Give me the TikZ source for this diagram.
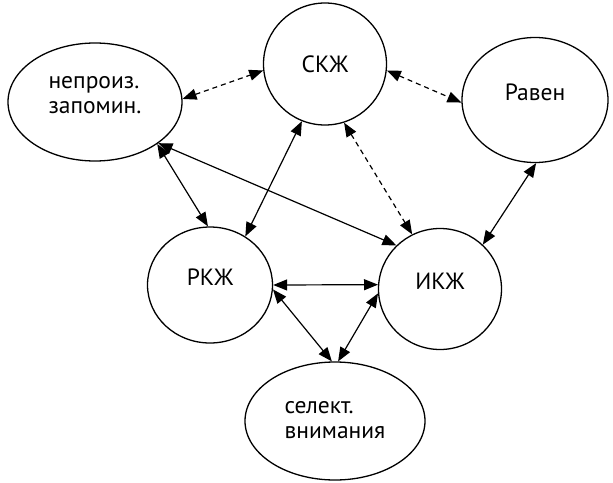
\documentclass[tikz,border=0pt]{standalone}
\usepackage{fontspec}
\setmainfont{PT Sans}
\usetikzlibrary{shapes.geometric,arrows.meta}
\newcommand\uptext[2]{\raisebox{#1}[\height][\depth]{\begin{tabular}{@{}l@{}}#2\end{tabular}}}
\begin{document}
\begin{tikzpicture}[x=1pt,y=-1pt,
  ell/.style={ellipse,draw,line width=1.3pt,inner sep=0pt,font=\fontsize{23.5}{25}\selectfont},
  con/.style={line width=1.2pt,{Triangle[length=14pt,width=11pt]}-{Triangle[length=14pt,width=11pt]}},
  dsh/.style={con,dash pattern=on 5pt off 4pt}]
\useasboundingbox (0,0) rectangle (613,482);
\node[ell,minimum width=174pt,minimum height=118pt] (np) at (95,102) {\uptext{6pt}{непроиз.\\запомин.}};
\node[ell,minimum width=123pt,minimum height=122pt] (skzh) at (325,64) {СКЖ};
\node[ell,minimum width=146pt,minimum height=125pt] (raven) at (535,100) {\uptext{5pt}{Равен}};
\node[ell,minimum width=125pt,minimum height=116pt] (rkzh) at (210,285) {\uptext{5pt}{РКЖ}};
\node[ell,minimum width=123pt,minimum height=121pt] (ikzh) at (440,289) {\uptext{5pt}{ИКЖ}};
\node[ell,minimum width=180pt,minimum height=118pt] (sel) at (335,421) {\uptext{0pt}{селект.\\внимания}};
\draw[dsh] (np.2) -- (skzh.186);
\draw[dsh] (skzh.-6) -- (raven.182);
\draw[dsh] (skzh.-72) -- (ikzh.117);
\draw[con] (np.-33) -- (ikzh.135);
\draw[con] (np.-34) -- (rkzh.92);
\draw[con] (skzh.-112) -- (rkzh.54);
\draw[con] (raven.-89) -- (ikzh.46);
\draw[con] (rkzh.0) -- (ikzh.176);
\draw[con] (rkzh.-4) -- (sel.93);
\draw[con] (ikzh.184) -- (sel.87);
\end{tikzpicture}
\end{document}
